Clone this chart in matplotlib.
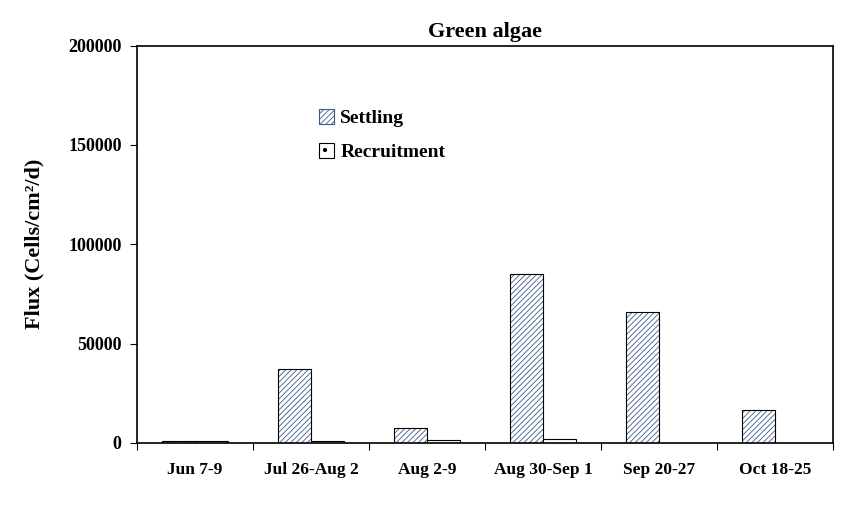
import numpy as np
import matplotlib.pyplot as plt
from matplotlib.patches import Patch

plt.rcParams['font.family'] = ['Liberation Serif', 'DejaVu Serif']
plt.rcParams['font.weight'] = 'bold'
plt.rcParams['hatch.linewidth'] = 0.6

periods = ["Jun 7-9", "Jul 26-Aug 2", "Aug 2-9", "Aug 30-Sep 1", "Sep 20-27", "Oct 18-25"]
settling = [800, 37300, 7700, 85200, 66000, 16800]
recruitment = [700, 800, 1400, 2100, 100, 100]

fig = plt.figure(figsize=(8.67, 5.18), dpi=100)
ax = fig.add_axes([0.158, 0.145, 0.803, 0.767])

x = np.arange(len(periods))
w = 0.285
hatch_col = '#3a5a8a'
# hatched fill in blue-grey, then black outlines on top
ax.bar(x - w / 2, settling, w, color='white', edgecolor=hatch_col, linewidth=0,
       hatch='//////')
ax.bar(x - w / 2, settling, w, color='none', edgecolor='black', linewidth=0.8)
ax.bar(x + w / 2, recruitment, w, color='white', edgecolor='black', linewidth=0.8,
       hatch='.')

ax.set_xlim(-0.5, len(periods) - 0.5)
ax.set_ylim(0, 200000)
ax.set_yticks([0, 50000, 100000, 150000, 200000])
ax.set_xticks(np.arange(-0.5, len(periods), 1), minor=False)
ax.set_xticklabels([])
ax.set_xticks(x, minor=True)
ax.set_xticklabels(periods, minor=True, fontsize=12.5, fontweight='bold')
ax.tick_params(axis='x', which='minor', length=0, pad=14)
ax.tick_params(axis='x', which='major', length=5, direction='out')
ax.tick_params(axis='y', length=5, direction='out', labelsize=13, pad=6)
for lab in ax.get_yticklabels():
    lab.set_fontweight('bold')
for s in ax.spines.values():
    s.set_linewidth(1.2)

ax.set_ylabel('Flux (Cells/cm²/d)', fontsize=16, fontweight='bold', labelpad=17)
ax.set_title('Green algae', fontsize=16, fontweight='bold', pad=6)

handles = [
    Patch(facecolor='white', edgecolor=hatch_col, linewidth=0.8, hatch='//////'),
    Patch(facecolor='white', edgecolor='black', linewidth=0.8, hatch='.'),
]
leg = ax.legend(handles, ['Settling', 'Recruitment'], loc='upper left',
                bbox_to_anchor=(0.25, 0.86), frameon=False,
                fontsize=14, handlelength=0.8, handleheight=0.8, handletextpad=0.3,
                labelspacing=0.8, borderaxespad=0)

fig.savefig('out.png', dpi=100)
